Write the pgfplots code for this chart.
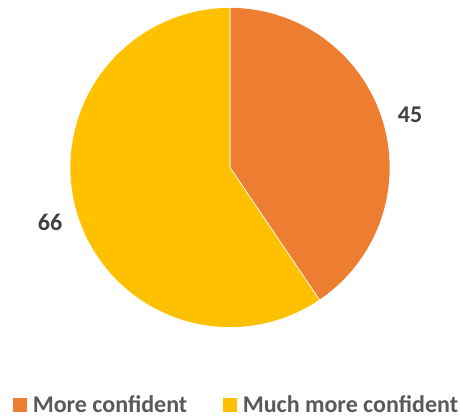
\documentclass[border=0pt]{standalone}
\usepackage{pgfplots}
\pgfplotsset{compat=1.18}
\usepackage{pgfplotstable}
\usepackage{fontspec}
\setmainfont{Carlito}
\definecolor{cOrange}{HTML}{ED7D31}
\definecolor{cGold}{HTML}{FFC000}
\definecolor{cText}{HTML}{595959}
\definecolor{cLabel}{HTML}{404040}
\pgfplotstableread{
label value
{More confident} 45
{Much more confident} 66
}\piedata
\begin{document}
\begin{tikzpicture}
\pgfplotstablegetelem{0}{value}\of\piedata \let\va\pgfplotsretval
\pgfplotstablegetelem{1}{value}\of\piedata \let\vb\pgfplotsretval
\pgfmathsetmacro{\tot}{\va+\vb}
\pgfmathsetmacro{\aA}{90}
\pgfmathsetmacro{\aB}{90-(\va/\tot)*360}
\pgfmathsetmacro{\aC}{\aB-(\vb/\tot)*360}
\begin{axis}[
  name=ax,
  x=1pt, y=1pt, scale only axis,
  xmin=0, xmax=460, ymin=0, ymax=419,
  hide axis, clip=false,
  legend columns=2,
  legend style={at={(axis cs:12,14)}, anchor=west, draw=none, fill=none,
    font=\fontsize{24}{28}\selectfont\bfseries\color{cText},
    /tikz/every odd column/.append style={column sep=3pt},
    /tikz/every even column/.append style={column sep=33pt},
    inner sep=0pt, cells={anchor=west}},
  legend image code/.code={\fill[#1] (0pt,-7.5pt) rectangle (15pt,7.5pt);},
]
\addplot[fill=cOrange, draw=white, line width=0.6pt, samples=120, domain=\aB:\aA, variable=\t]
  ({230+160*cos(\t)},{251.5+160*sin(\t)}) -- (axis cs:230,251.5) -- cycle;
\addlegendentry{More confident}
\addplot[fill=cGold, draw=white, line width=0.6pt, samples=160, domain=\aC:\aB, variable=\t]
  ({230+160*cos(\t)},{251.5+160*sin(\t)}) -- (axis cs:230,251.5) -- cycle;
\addlegendentry{Much more confident}
\node[font=\fontsize{24}{28}\selectfont\bfseries, text=cLabel] at (axis cs:410,304.5) {\va};
\node[font=\fontsize{24}{28}\selectfont\bfseries, text=cLabel] at (axis cs:50,197) {\vb};
\coordinate (BL) at (axis cs:0,0);
\coordinate (TR) at (axis cs:460,419);
\end{axis}
\pgfresetboundingbox
\path (BL) rectangle (TR);
\end{tikzpicture}
\end{document}
